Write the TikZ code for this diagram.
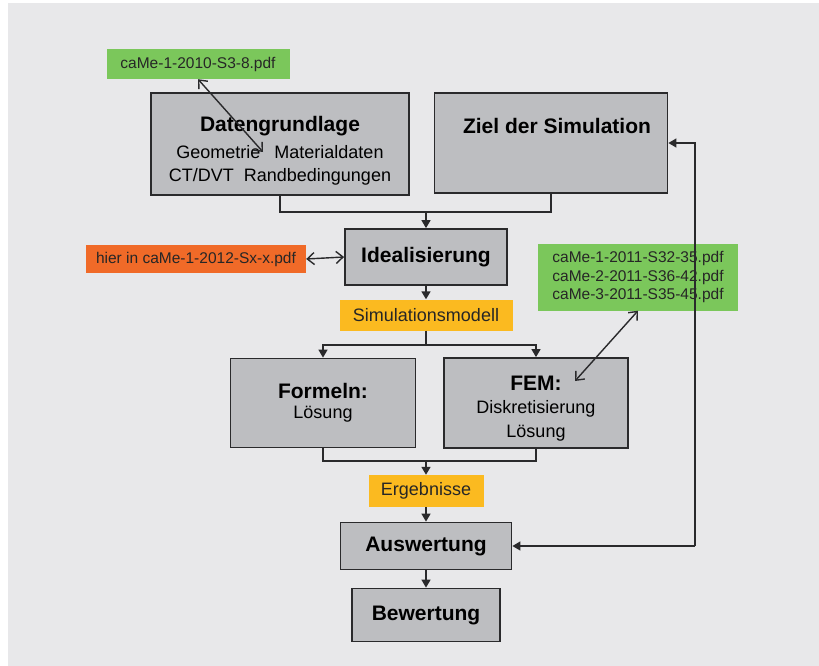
\documentclass[tikz,border=0pt]{standalone}
\usepackage{fontspec}
\setmainfont{Liberation Sans}
\usetikzlibrary{arrows.meta}

\definecolor{bggray}{HTML}{E8E8EA}
\definecolor{boxgray}{HTML}{BDBEC1}
\definecolor{boxline}{HTML}{2A2A2C}
\definecolor{refgreen}{HTML}{7BC75B}
\definecolor{reforange}{HTML}{F06A28}
\definecolor{refyellow}{HTML}{FBBA20}

\newcommand{\headfont}{\fontsize{21}{24}\selectfont\bfseries}
\newcommand{\bodyfont}{\fontsize{18}{23.5}\selectfont}
\newcommand{\notefont}{\fontsize{15.5}{18.5}\selectfont}

\tikzset{
  box/.style={draw=boxline, fill=boxgray, line width=1.8pt, inner sep=0pt,
    align=center, font=\bodyfont, text=black},
  note/.style={fill=#1, inner sep=0pt, align=center, font=\notefont, text=black!85},
  wire/.style={draw=boxline, line width=1.6pt},
  flow/.style={wire, -{Triangle[length=8pt,width=9pt]}},
  link/.style={draw=boxline, line width=1.4pt,
    {Straight Barb[length=7pt,width=12pt]}-{Straight Barb[length=7pt,width=12pt]}}
}

\begin{document}
\begin{tikzpicture}[x=1pt,y=-1pt]
  \useasboundingbox (0,0) rectangle (819,666);
  \fill[bggray] (8,3) rectangle (819,666);

  % boxes
  \node[box, minimum width=258pt, minimum height=102pt] (daten) at (280,144)
    {{\headfont\rule{0pt}{29pt}Datengrundlage}\\[3pt]Geometrie\hspace{14pt}Materialdaten\\CT/DVT\hspace{10pt}Randbedingungen};
  \node[box, minimum width=233pt, minimum height=100pt] (ziel) at (551,143) {};
  \node[font=\headfont, inner sep=0pt] (zieltext) at (557,126) {Ziel der Simulation};
  \node[box, minimum width=162pt, minimum height=56pt, font=\headfont] (ideal) at (426,257) {Idealisierung};
  \node[box, minimum width=185pt, minimum height=89pt] (formeln) at (323,403)
    {{\headfont Formeln:}\\[-3pt]Lösung};
  \node[box, minimum width=184pt, minimum height=90pt] (fem) at (536,403)
    {{\headfont\rule{0pt}{25pt}FEM:}\\Diskretisierung\\Lösung};
  \node[box, minimum width=171pt, minimum height=47pt, font=\headfont] (ausw) at (426,546) {Auswertung};
  \node[box, minimum width=148pt, minimum height=53pt, font=\headfont] (bewert) at (426,615) {Bewertung};

  % notes
  \node[note=refgreen, minimum width=183pt, minimum height=30pt] (green1) at (198,64) {caMe-1-2010-S3-8.pdf};
  \node[note=reforange, minimum width=220pt, minimum height=28pt] (orange) at (196,259) {hier in caMe-1-2012-Sx-x.pdf};
  \node[note=refgreen, minimum width=200pt, minimum height=67pt] (green2) at (638,277)
    {caMe-1-2011-S32-35.pdf\\caMe-2-2011-S36-42.pdf\\caMe-3-2011-S35-45.pdf};
  \node[note=refyellow, minimum width=173pt, minimum height=31pt, font=\bodyfont] (simmod) at (426,315) {Simulationsmodell};
  \node[note=refyellow, minimum width=115pt, minimum height=32pt, font=\bodyfont] (ergeb) at (426,491) {Ergebnisse};

  \coordinate (join1) at (426,212);
  \coordinate (split) at (426,345);
  \coordinate (merge) at (426,461);
  \coordinate (back) at (695,546);
  \coordinate (geoend) at (263,152);
  \coordinate (femend) at (575,381);

  % connectors
  \draw[wire] (daten.south) -- (daten.south |- join1) -- (ziel.south |- join1) -- (ziel.south);
  \draw[flow] (join1) -- (ideal.north);
  \draw[flow] (ideal) -- (simmod);
  \draw[wire] (simmod.south) -- (split);
  \draw[flow] (split) -| (formeln.north);
  \draw[flow] (split) -| (fem.north);
  \draw[wire] (formeln.south) |- (merge);
  \draw[wire] (fem.south) |- (merge);
  \draw[flow] (merge) -- (ergeb.north);
  \draw[flow] (ergeb) -- (ausw);
  \draw[flow] (ausw) -- (bewert);
  \draw[flow] (back) -- (ausw.east);
  \draw[flow] (back) |- (ziel.east);

  \draw[link] (green1.south) -- (geoend);
  \draw[link] (orange.east) -- (ideal.west);
  \draw[link] (green2.south) -- (femend);
\end{tikzpicture}
\end{document}
